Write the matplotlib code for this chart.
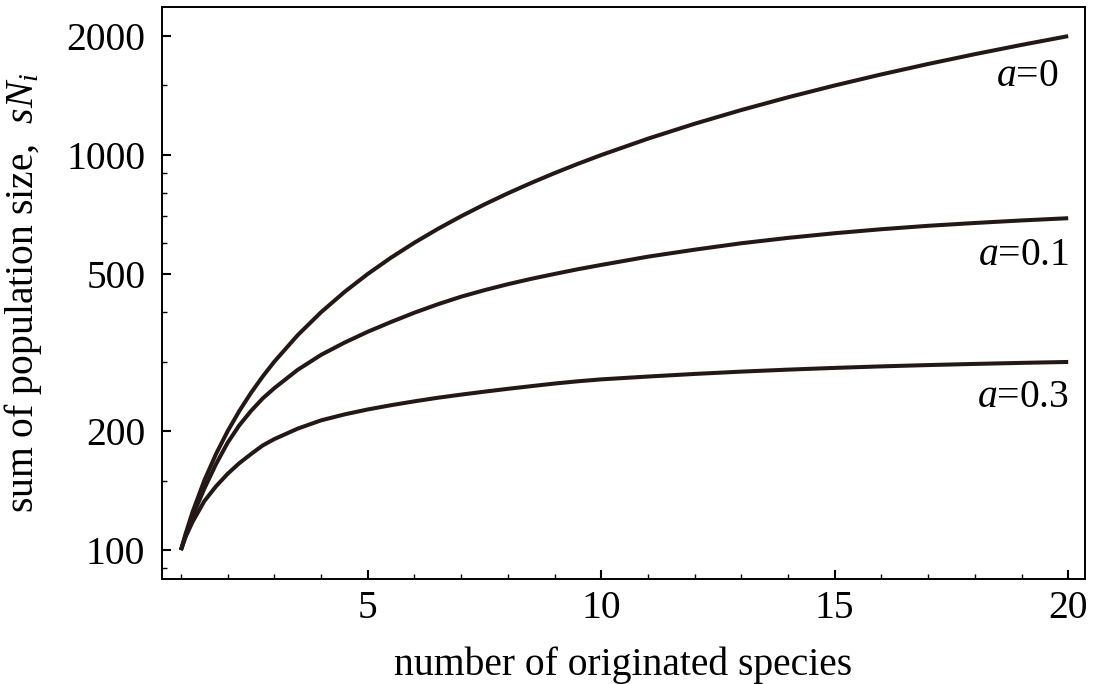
import matplotlib
matplotlib.use("Agg")
import matplotlib.pyplot as plt

# fonts: Times-like serif everywhere, italic math letters
plt.rcParams['font.family'] = ['Liberation Serif', 'DejaVu Serif']
plt.rcParams['mathtext.fontset'] = 'custom'
plt.rcParams['mathtext.rm'] = 'Liberation Serif'
plt.rcParams['mathtext.it'] = 'Liberation Serif:italic'

# DATA
species = [1, 1.1, 1.25, 1.5, 1.75, 2, 2.25, 2.5, 2.75, 3, 3.5, 4, 4.5, 5, 5.5, 6, 6.5,
           7, 7.5, 8, 8.5, 9, 9.5, 10, 11, 12, 13, 14, 15, 16, 17, 18, 19, 20]
sum_a0 = [100, 110, 125, 150, 175, 200, 225, 250, 275, 300, 350, 400, 450, 500, 550,
          600, 650, 700, 750, 800, 850, 900, 950, 1000, 1100, 1200, 1300, 1400, 1500,
          1600, 1700, 1800, 1900, 2000]
sum_a01 = [100, 109, 122, 143, 165, 187, 207, 225, 242, 257, 286, 312, 335, 357, 378,
           399, 419, 438, 455, 471, 486, 500, 514, 527, 553, 576, 598, 617, 634,
           649, 662, 673, 683, 692]
sum_a03 = [100, 108, 118, 133, 145, 156, 166, 175, 184, 191, 203, 213, 220.5, 227, 232.7,
           238, 243, 247.5, 251.8, 256, 260, 264, 267.5, 270.5, 275, 279.2, 283, 286.3,
           289.2, 291.8, 294, 296, 297.8, 299.4]

curve_labels = ['$a$=0', '$a$=0.1', '$a$=0.3']
label_x = [19.78, 20.02, 20.02]
label_y = [1580, 558, 244]

y_major = [100, 200, 500, 1000, 2000]
y_minor = [90, 150, 300, 400, 600, 700, 800, 900, 1500]
x_major = [5, 10, 15, 20]
x_minor = [i for i in range(1, 20) if i % 5 != 0]

line_color = '#231815'
fs = 28.5

fig = plt.figure(figsize=(10.93, 6.84), dpi=100)
ax = fig.add_axes([0.1482, 0.1535, 0.8445, 0.8363])

for ys in (sum_a0, sum_a01, sum_a03):
    ax.plot(species, ys, color=line_color, lw=2.9, solid_capstyle='butt')

for txt, lx, ly in zip(curve_labels, label_x, label_y):
    ax.text(lx, ly, txt, fontsize=fs, ha='right', va='center', color='black')

ax.set_yscale('log')
ax.set_xlim(0.594, 20.36)
ax.set_ylim(84.5, 2370)

ax.set_xticks(x_major)
ax.set_xticks(x_minor, minor=True)
ax.set_yticks(y_major)
ax.set_yticklabels([str(v) for v in y_major])
ax.set_yticks(y_minor, minor=True)
ax.yaxis.set_minor_formatter(matplotlib.ticker.NullFormatter())

ax.tick_params(which='both', direction='in', top=False, right=False, labelsize=fs)
ax.tick_params(which='major', length=6.5, width=1.5)
ax.tick_params(which='minor', length=3.5, width=1.0)
ax.tick_params(axis='y', which='major', pad=12)
ax.tick_params(axis='x', which='major', pad=8)

for sp in ax.spines.values():
    sp.set_linewidth(1.4)

ax.set_xlabel('number of originated species', fontsize=fs, labelpad=14)
ax.set_ylabel('sum of population size,  $sN_i$', fontsize=fs, labelpad=16)

fig.savefig('out.png', dpi=100)
